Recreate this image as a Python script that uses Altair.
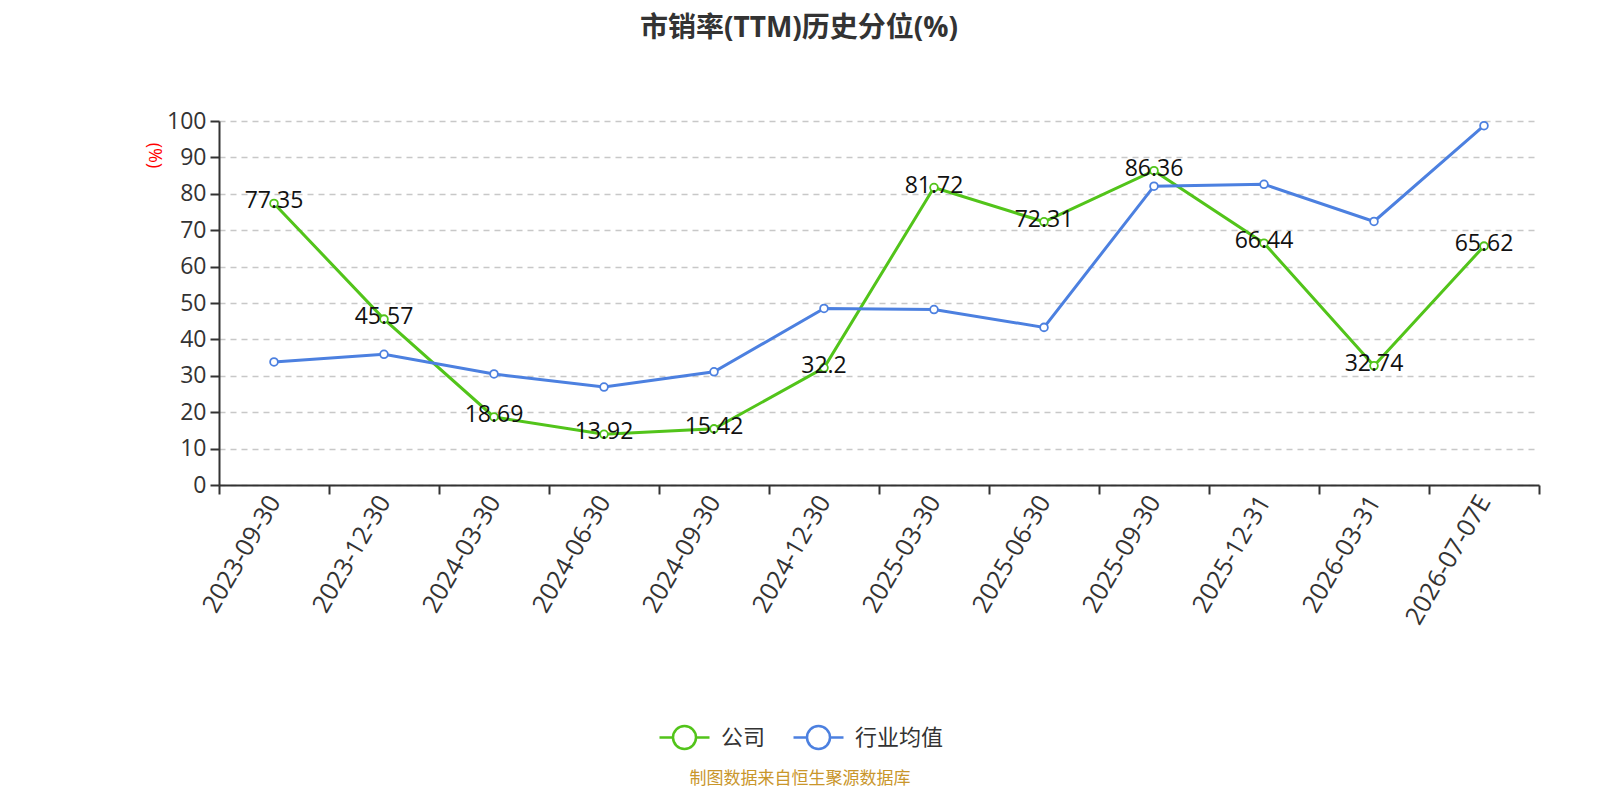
import altair as alt
import pandas as pd

dates = ["2023-09-30", "2023-12-30", "2024-03-30", "2024-06-30", "2024-09-30", "2024-12-30",
         "2025-03-30", "2025-06-30", "2025-09-30", "2025-12-31", "2026-03-31", "2026-07-07E"]
company = [77.35, 45.57, 18.69, 13.92, 15.42, 32.2, 81.72, 72.31, 86.36, 66.44, 32.74, 65.62]
industry = [33.8, 35.9, 30.5, 26.9, 31.1, 48.5, 48.2, 43.3, 82.1, 82.6, 72.4, 98.7]
series_names = ["公司", "行业均值"]
colors = ["#52C41A", "#4C80E0"]
y_ticks = list(range(0, 101, 10))
band_edges = list(range(0, len(dates) + 1))
title_text = "市销率(TTM)历史分位(%)"
source_text = "制图数据来自恒生聚源数据库"

FONT = "Open Sans, Noto Sans CJK SC"

rows = []
for d, c, i in zip(dates, company, industry):
    rows.append({"date": d, "series": series_names[0], "value": c})
    rows.append({"date": d, "series": series_names[1], "value": i})
df = pd.DataFrame(rows)

legend_symbol = ("M-1,0L-0.46,0M0.46,0L1,0"
                 "M0.46,0A0.46,0.46,0,1,1,-0.46,0A0.46,0.46,0,1,1,0.46,0")

x_enc = alt.X("date:O", sort=dates, scale=alt.Scale(paddingInner=0, paddingOuter=0),
              axis=alt.Axis(title=None, labelAngle=-60, labelAlign="right", labelBaseline="middle",
                            labelPadding=12, ticks=False, domain=True, grid=False,
                            labelOverlap=False, labelFontSize=25))
y_enc = alt.Y("value:Q", scale=alt.Scale(domain=[0, 100], nice=False),
              axis=alt.Axis(values=y_ticks, title="(%)", titleColor="red", titleFontSize=18,
                            titleFontWeight="normal", titleAngle=90,
                            titleX=-66, titleY=34, titleAlign="center", titleBaseline="middle",
                            labelPadding=4, tickSize=9, labelOverlap=False, labelFontSize=23,
                            grid=True, gridDash=[6, 5], gridColor="#C8C8C8", gridWidth=1.5))
color_scale = alt.Scale(domain=series_names, range=colors)
color_enc = alt.Color("series:N", scale=color_scale,
                      legend=alt.Legend(title=None, orient="none", legendX=439, legendY=590,
                                        direction="horizontal", symbolType=legend_symbol,
                                        symbolSize=2500, symbolStrokeWidth=2.5,
                                        symbolFillColor="white", labelFontSize=22,
                                        labelFont=FONT, labelColor="#333333", labelOffset=10,
                                        columnPadding=22))

base = alt.Chart(df)
lines = base.mark_line(strokeWidth=3).encode(x=x_enc, y=y_enc, color=color_enc)
points = base.mark_point(shape="circle", filled=False, fill="white", fillOpacity=1, size=60,
                         strokeWidth=1.8, opacity=1).encode(x=x_enc, y=y_enc, color=color_enc)
labels = base.transform_filter(alt.datum.series == series_names[0]).mark_text(
    fontSize=23, font=FONT, color="#111111", dy=-2).encode(
    x=x_enc, y=y_enc, text=alt.Text("value:Q"))

src = alt.Chart(pd.DataFrame({"t": [source_text]})).mark_text(
    fontSize=17, font=FONT, color="#C9962B", baseline="middle").encode(
    x=alt.value(581), y=alt.value(658), text="t:N")

main = alt.layer(lines, points, labels, src)

ticks_layer = alt.Chart(pd.DataFrame({"b": band_edges})).mark_point(opacity=0).encode(
    x=alt.X("b:Q", scale=alt.Scale(domain=[0, len(dates)], nice=False, zero=False),
            axis=alt.Axis(values=band_edges, labels=False, domain=False, grid=False, ticks=True,
                          tickSize=9, orient="bottom", title=None)),
    y=alt.value(0))

chart = alt.layer(main, ticks_layer).resolve_scale(x="independent").properties(
    width=1320, height=364,
    autosize=alt.AutoSizeParams(type="none"),
    padding={"left": 211, "top": 113, "right": 53, "bottom": 307},
    title=alt.TitleParams(title_text, fontSize=28, font=FONT, fontWeight="bold",
                          color="#333333", anchor="middle", dx=-80, offset=67),
).configure(
    background="white",
    axis=alt.AxisConfig(labelFont=FONT, labelColor="#333333", titleFont=FONT,
                        domainColor="#333333", domainWidth=2, tickColor="#333333", tickWidth=2),
    view=alt.ViewConfig(strokeWidth=0),
)

chart.save("out.html", embed_options={"renderer": "svg", "actions": False})
